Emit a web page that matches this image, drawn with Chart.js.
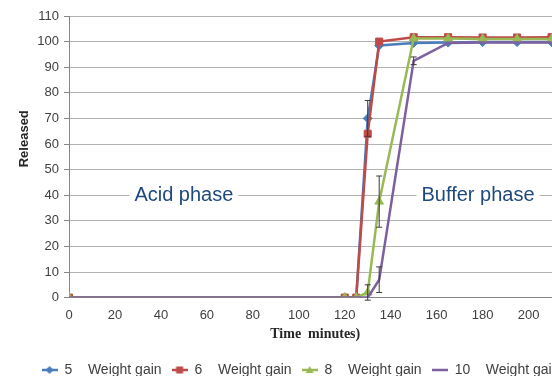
<!DOCTYPE html>
<html>
<head>
<meta charset="utf-8">
<script src="https://cdn.jsdelivr.net/npm/chart.js@4.4.0/dist/chart.umd.min.js"></script>
<style>
  html, body { margin: 0; padding: 0; background: #fff; overflow: hidden; }
  #wrap { width: 600px; height: 387px; }
</style>
</head>
<body>
<div id="wrap"><canvas id="chart" width="600" height="387"></canvas></div>
<script>
const times = [0, 120, 125, 130, 135, 150, 165, 180, 195, 210]
const seriesNames = ["5    Weight gain", "6    Weight gain", "8    Weight gain", "10    Weight gain"]
const wg5 = [0, 0, 0, 70, 98.5, 99.5, 99.6, 99.8, 99.8, 99.8]
const wg6 = [0, 0, 0, 64, 100, 101.7, 101.7, 101.6, 101.6, 101.7]
const wg8 = [0, 0, 0, 2, 37.5, 101.2, 101.2, 101, 101, 101]
const wg10 = [0, 0, 0, 0, 7, 92.5, 99.5, 99.6, 99.6, 99.6]
// +/- error bars, null where none is drawn
const err5 = [null, null, null, 7, null, null, null, null, null, null]
const err6 = [null, null, null, null, null, null, null, null, null, null]
const err8 = [null, null, null, 3, 10, null, null, null, null, null]
const err10 = [null, null, null, null, 5, 1.5, null, null, null, null]
const yTicks = [0, 110, 10]
const phases = [{ text: "Acid phase", x: 50, y: 40 }, { text: "Buffer phase", x: 178, y: 40 }]

const colors = ["#4A7EBB", "#BE4B48", "#98B954", "#7D60A0"]
const markers = ["rectRot", "rect", "triangle", false]
const radii = [4.5, 5, 5, 0]
const values = [wg5, wg6, wg8, wg10]
const errors = [err5, err6, err8, err10]

Chart.defaults.font.family = "'Liberation Sans', Arial, sans-serif"
Chart.defaults.color = "#404040"

// little line + marker picture for the legend
function legendIcon(color, style) {
  const c = document.createElement("canvas")
  c.width = 16
  c.height = 10
  const ctx = c.getContext("2d")
  ctx.strokeStyle = color
  ctx.lineWidth = 2.5
  ctx.beginPath()
  ctx.moveTo(0, 5)
  ctx.lineTo(16, 5)
  ctx.stroke()
  ctx.fillStyle = color
  ctx.beginPath()
  if (style === "rectRot") {
    ctx.moveTo(8, 1); ctx.lineTo(12, 5); ctx.lineTo(8, 9); ctx.lineTo(4, 5)
  } else if (style === "rect") {
    ctx.rect(4.5, 1.5, 7, 7)
  } else if (style === "triangle") {
    ctx.moveTo(8, 1); ctx.lineTo(12, 8); ctx.lineTo(4, 8)
  }
  ctx.closePath()
  ctx.fill()
  return c
}

const errorBars = {
  id: "errorBars",
  afterDatasetsDraw(chart) {
    const { ctx, scales: { x, y } } = chart
    ctx.save()
    ctx.strokeStyle = "#3a3a3a"
    ctx.lineWidth = 1
    errors.forEach((errs, i) => {
      errs.forEach((e, j) => {
        if (e == null) return
        const px = x.getPixelForValue(times[j])
        const top = y.getPixelForValue(values[i][j] + e)
        const bot = y.getPixelForValue(values[i][j] - e)
        ctx.beginPath()
        ctx.moveTo(px, top); ctx.lineTo(px, bot)
        ctx.moveTo(px - 3, top); ctx.lineTo(px + 3, top)
        ctx.moveTo(px - 3, bot); ctx.lineTo(px + 3, bot)
        ctx.stroke()
      })
    })
    ctx.restore()
  }
}

const phaseLabels = {
  id: "phaseLabels",
  beforeDatasetsDraw(chart) {
    const { ctx, scales: { x, y } } = chart
    ctx.save()
    ctx.font = "20px 'Liberation Sans', Arial, sans-serif"
    ctx.textAlign = "center"
    ctx.textBaseline = "middle"
    phases.forEach(p => {
      const px = x.getPixelForValue(p.x)
      const py = y.getPixelForValue(p.y)
      const w = ctx.measureText(p.text).width
      ctx.fillStyle = "#fff"
      ctx.fillRect(px - w / 2 - 5, py - 12, w + 10, 24)
      ctx.fillStyle = "#1F497D"
      ctx.fillText(p.text, px, py)
    })
    ctx.restore()
  }
}

new Chart(document.getElementById("chart"), {
  type: "line",
  data: {
    labels: times,
    datasets: values.map((v, i) => ({
      label: seriesNames[i],
      data: v.map((val, j) => ({ x: times[j], y: val })),
      borderColor: colors[i],
      backgroundColor: colors[i],
      borderWidth: 2.5,
      pointStyle: markers[i],
      pointRadius: radii[i],
      pointBorderWidth: 1,
      tension: 0,
      order: 3 - i
    }))
  },
  options: {
    responsive: false,
    animation: false,
    layout: { padding: { left: 15, right: 14, top: 16, bottom: 0 } },
    scales: {
      x: {
        type: "linear",
        min: 0,
        max: 225,
        grid: { display: false, drawTicks: false, tickLength: 0 },
        border: { display: true, color: "#868686", width: 1 },
        ticks: { stepSize: 20, includeBounds: false, font: { size: 13 }, color: "#404040", padding: 10, maxRotation: 0 },
        title: {
          display: true,
          text: "Time  minutes)       ",
          font: { family: "'Liberation Serif', 'Times New Roman', serif", size: 14, weight: "bold" },
          color: "#262626",
          padding: { top: -7, bottom: 10 }
        }
      },
      y: {
        min: yTicks[0],
        max: yTicks[1],
        afterFit: (scale) => { scale.width = 54 },
        grid: { color: "#B3B3B3", tickLength: 5, tickColor: "#868686" },
        border: { display: true, color: "#868686", width: 1 },
        ticks: { stepSize: yTicks[2], font: { size: 13 }, color: "#404040", padding: 5 },
        title: {
          display: true,
          text: "          Released",
          font: { size: 13, weight: "bold" },
          color: "#262626",
          padding: { top: 2, bottom: 4 }
        }
      }
    },
    plugins: {
      tooltip: { enabled: false },
      legend: {
        position: "bottom",
        labels: {
          usePointStyle: true,
          pointStyleWidth: 16,
          padding: 10,
          color: "#404040",
          font: { size: 14 },
          generateLabels: (chart) => chart.data.datasets.map((ds, i) => ({
            text: ds.label,
            fillStyle: colors[i],
            strokeStyle: colors[i],
            lineWidth: 0,
            pointStyle: legendIcon(colors[i], markers[i]),
            datasetIndex: i,
            hidden: false,
            fontColor: "#404040"
          }))
        }
      }
    }
  },
  plugins: [errorBars, phaseLabels]
})
</script>
</body>
</html>
